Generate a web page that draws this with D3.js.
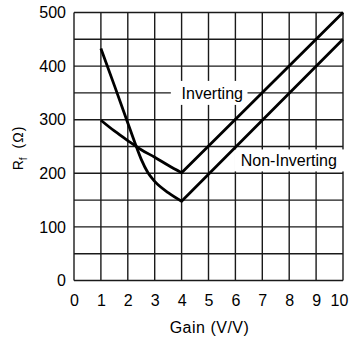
<!DOCTYPE html>
<html>
<head>
<meta charset="utf-8">
<script src="https://cdn.jsdelivr.net/npm/d3@7"></script>
<style>
  body { margin: 0; background: #fff; }
  text { font-family: "Liberation Sans", Arial, sans-serif; fill: #000; }
</style>
</head>
<body>
<div id="chart"></div>
<script>
// Rf vs gain
const xTicks = [0, 1, 2, 3, 4, 5, 6, 7, 8, 9, 10];
const yTicks = [0, 100, 200, 300, 400, 500];
const yGrid = [0, 50, 100, 150, 200, 250, 300, 350, 400, 450, 500];

const invGainCurve = [1, 1.5, 2, 2.5, 3, 3.5, 4];
const invRfCurve = [299, 279, 261, 244, 230, 215, 201];
const invGainLine = [4, 10];
const invRfLine = [201, 500];

const nonGainCurve = [1, 1.5, 2, 2.25, 2.5, 2.75, 3, 3.5, 4];
const nonRfCurve = [433, 364, 294, 259, 226, 201, 185, 164, 148];
const nonGainLine = [4, 10];
const nonRfLine = [148, 450];

const width = 349, height = 339;
const plotL = 74, plotR = 343, plotT = 12.5, plotB = 280.5;

const svg = d3.select('#chart').append('svg')
  .attr('width', width)
  .attr('height', height);

const x = d3.scaleLinear().domain([0, 10]).range([plotL, plotR]);
const y = d3.scaleLinear().domain([0, 500]).range([plotB, plotT]);

// grid
const grid = svg.append('g').attr('stroke', '#1a1a1a').attr('stroke-width', 1.4);
grid.selectAll('line.v').data(xTicks).enter().append('line')
  .attr('x1', d => x(d)).attr('x2', d => x(d))
  .attr('y1', y(0)).attr('y2', y(500));
grid.selectAll('line.h').data(yGrid).enter().append('line')
  .attr('x1', x(0)).attr('x2', x(10))
  .attr('y1', d => y(d)).attr('y2', d => y(d));

// label backgrounds hide grid behind text
svg.append('rect').attr('x', x(3.6)).attr('y', y(350) - 12)
  .attr('width', x(6.45) - x(3.6)).attr('height', 24).attr('fill', '#fff');
svg.append('rect').attr('x', x(5.95)).attr('y', y(224) - 11)
  .attr('width', x(10) - x(5.95) + 2).attr('height', 22).attr('fill', '#fff');

// curves
const zip = (a, b) => a.map((v, i) => [v, b[i]]);
const smooth = d3.line().x(d => x(d[0])).y(d => y(d[1])).curve(d3.curveMonotoneX);
const straight = d3.line().x(d => x(d[0])).y(d => y(d[1]));

const curves = svg.append('g').attr('fill', 'none').attr('stroke', '#000')
  .attr('stroke-width', 2.8).attr('stroke-linejoin', 'miter');
curves.append('path').attr('d', smooth(zip(invGainCurve, invRfCurve)) + straight(zip(invGainLine, invRfLine)).replace('M', 'L'));
curves.append('path').attr('d', smooth(zip(nonGainCurve, nonRfCurve)) + straight(zip(nonGainLine, nonRfLine)).replace('M', 'L'));

// axes
const xAxis = svg.append('g').attr('transform', `translate(0,${plotB})`)
  .call(d3.axisBottom(x).tickValues(xTicks).tickSize(0).tickPadding(14));
const yAxis = svg.append('g').attr('transform', `translate(${plotL},0)`)
  .call(d3.axisLeft(y).tickValues(yTicks).tickSize(0).tickPadding(8));
[xAxis, yAxis].forEach(a => {
  a.select('.domain').remove();
  a.selectAll('text').style('font-size', '16px').style('font-family', '"Liberation Sans", Arial, sans-serif');
});
// keep the last x label inside the window
xAxis.selectAll('text').filter(d => d === 10).attr('dx', -4);

// annotations
svg.append('text').attr('x', x(4)).attr('y', y(350)).attr('dy', '0.35em')
  .style('font-size', '16px').text('Inverting');
svg.append('text').attr('x', x(6.2)).attr('y', y(224)).attr('dy', '0.35em')
  .style('font-size', '16px').text('Non-Inverting');

// titles
svg.append('text').attr('x', (plotL + plotR) / 2 + 1).attr('y', 333)
  .attr('text-anchor', 'middle').style('font-size', '16px')
  .style('letter-spacing', '0.5px').text('Gain (V/V)');
const yt = svg.append('text')
  .attr('transform', `translate(23,148) rotate(-90)`)
  .attr('text-anchor', 'middle').style('font-size', '14px');
yt.append('tspan').text('R');
yt.append('tspan').attr('dy', 4).style('font-size', '10px').text('f');
yt.append('tspan').attr('dy', -4).attr('dx', 9).style('letter-spacing', '1px').text('(Ω)');
</script>
</body>
</html>
